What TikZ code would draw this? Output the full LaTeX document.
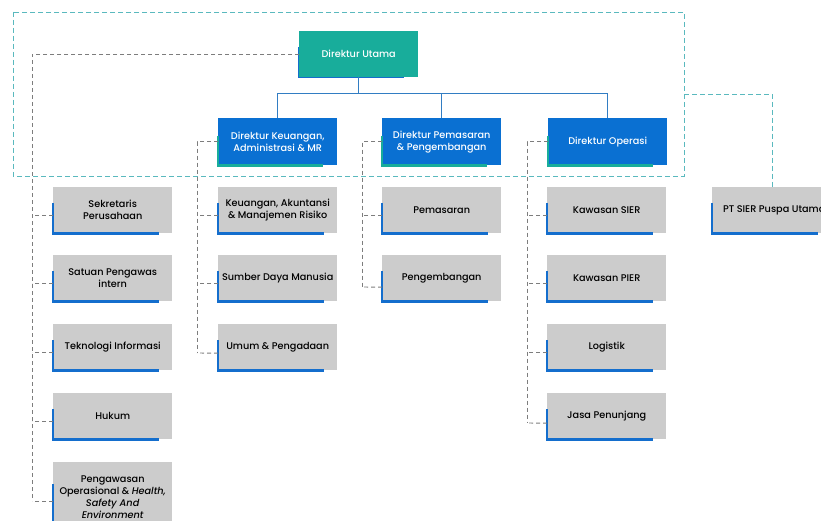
\documentclass[tikz,border=0pt]{standalone}
\usepackage{fontspec}
\setmainfont{Poppins}[UprightFont=* Medium, ItalicFont=* Medium Italic, BoldFont=* SemiBold]
\definecolor{tealc}{RGB}{24,173,155}
\definecolor{bluec}{RGB}{10,112,210}
\definecolor{accblue}{RGB}{20,110,205}
\definecolor{greyc}{RGB}{204,204,204}
\definecolor{dgrey}{RGB}{125,125,125}
\definecolor{tdashc}{RGB}{90,185,190}
\definecolor{treec}{RGB}{50,125,195}
\begin{document}
\begin{tikzpicture}[x=1pt,y=-1pt,
  every node/.style={font=\fontsize{9.7}{12.2}\selectfont, align=center, inner sep=0pt, anchor=north west},
  gbox/.style={fill=greyc, text=black, minimum width=119pt, minimum height=46pt},
  dbox/.style={fill=bluec, text=white, minimum width=119pt, minimum height=47pt},
  ubox/.style={fill=tealc, text=white, minimum width=119pt, minimum height=46pt},
  accb/.style={draw=accblue, line width=2.6pt},
  acct/.style={draw=tealc, line width=2.6pt},
  gdash/.style={draw=dgrey, line width=0.9pt, dash pattern=on 4pt off 3pt},
  tdash/.style={draw=tdashc, line width=0.9pt, dash pattern=on 5pt off 3pt},
  tree/.style={draw=treec, line width=1pt}]
\useasboundingbox (0,0) rectangle (821,521);
\clip (0,0) rectangle (821,521);
\fill[white] (0,0) rectangle (821,521);

% top level
\draw[accb] (299,47) -- (299,77) -- (404,77);
\node[ubox] (du) at (299,31) {Direktur Utama};

% directors
\node[dbox] (d1) at (218,118) {Direktur Keuangan,\\Administrasi \& MR};
\node[dbox] (d2) at (382,118) {Direktur Pemasaran\\\& Pengembangan};
\node[dbox] (d3) at (548,118) {Direktur Operasi};
\foreach \n in {d1,d2,d3}{
  \draw[acct] ([yshift=-18pt]\n.north west) -- (\n.south west) -- ([xshift=105pt]\n.south west);
}

% grey boxes
\node[gbox] (s1) at (53,187) {Sekretaris\\Perusahaan};
\node[gbox] (s2) at (53,255) {Satuan Pengawas\\intern};
\node[gbox] (s3) at (53,324) {Teknologi Informasi};
\node[gbox] (s4) at (53,393) {Hukum};
\node[gbox, minimum height=70pt] (s5) at (53,462) {Pengawasan\\Operasional \& \textit{Health,}\\\textit{Safety And}\\\textit{Environment}};

\node[gbox] (k1) at (218,187) {Keuangan, Akuntansi\\\& Manajemen Risiko};
\node[gbox] (k2) at (218,255) {Sumber Daya Manusia};
\node[gbox] (k3) at (218,324) {Umum \& Pengadaan};

\node[gbox] (p1) at (382,187) {Pemasaran};
\node[gbox] (p2) at (382,255) {Pengembangan};

\node[gbox] (o1) at (547,187) {Kawasan SIER};
\node[gbox] (o2) at (547,255) {Kawasan PIER};
\node[gbox] (o3) at (547,324) {Logistik};
\node[gbox] (o4) at (547,393) {Jasa Penunjang};

\node[gbox, minimum width=124pt] (pt) at (712,187) {PT SIER Puspa Utama};

\foreach \n in {s1,s2,s3,s4,k1,k2,k3,p1,p2,o1,o2,o3,o4,pt}{
  \draw[accb] ([yshift=-16pt]\n.north west) -- (\n.south west) -- ([xshift=106pt]\n.south west);
}
\draw[accb] ([yshift=-22pt]s5.north west) -- ([yshift=-70pt]s5.north west);

% solid tree
\coordinate (bus) at (356,94);
\draw[tree] (du.south) -- (du.south |- bus);
\draw[tree] (d1.north) |- (d3.north |- bus) -- (d3.north);
\draw[tree] (d2.north) -- (d2.north |- bus);

% teal dashed frame and link to PT SIER
\coordinate (fr1) at (13,12);
\coordinate (fr2) at (684,176);
\coordinate (frm) at (684,94);
\draw[tdash] (fr1) rectangle (fr2);
\draw[tdash] (frm) -| ([xshift=-2pt]pt.north);

% grey dashed connectors
\coordinate (c1) at (32,501);
\draw[gdash] (du.west) -| (c1);
\foreach \n in {s1,s2,s3,s4}{
  \draw[gdash] ([yshift=-5pt]\n.west) -- ([yshift=-5pt]\n.west -| c1);
}
\draw[gdash] ([yshift=-39pt]s5.north west) -- (c1);

\coordinate (c2) at (197,353);
\draw[gdash] (d1.west) -| (c2);
\foreach \n in {k1,k2}{
  \draw[gdash] ([yshift=-5pt]\n.west) -- ([yshift=-5pt]\n.west -| c2);
}
\draw[gdash] ([yshift=-6pt]k3.west) -- (c2);

\coordinate (c3) at (362,287);
\draw[gdash] (d2.west) -| (c3);
\draw[gdash] ([yshift=-5pt]p1.west) -- ([yshift=-5pt]p1.west -| c3);
\draw[gdash] ([yshift=-9pt]p2.west) -- (c3);

\coordinate (c4) at (527,423);
\draw[gdash] (d3.west) -| (c4);
\foreach \n in {o1,o2,o3}{
  \draw[gdash] ([yshift=-5pt]\n.west) -- ([yshift=-5pt]\n.west -| c4);
}
\draw[gdash] ([yshift=-7pt]o4.west) -- (c4);
\end{tikzpicture}
\end{document}
